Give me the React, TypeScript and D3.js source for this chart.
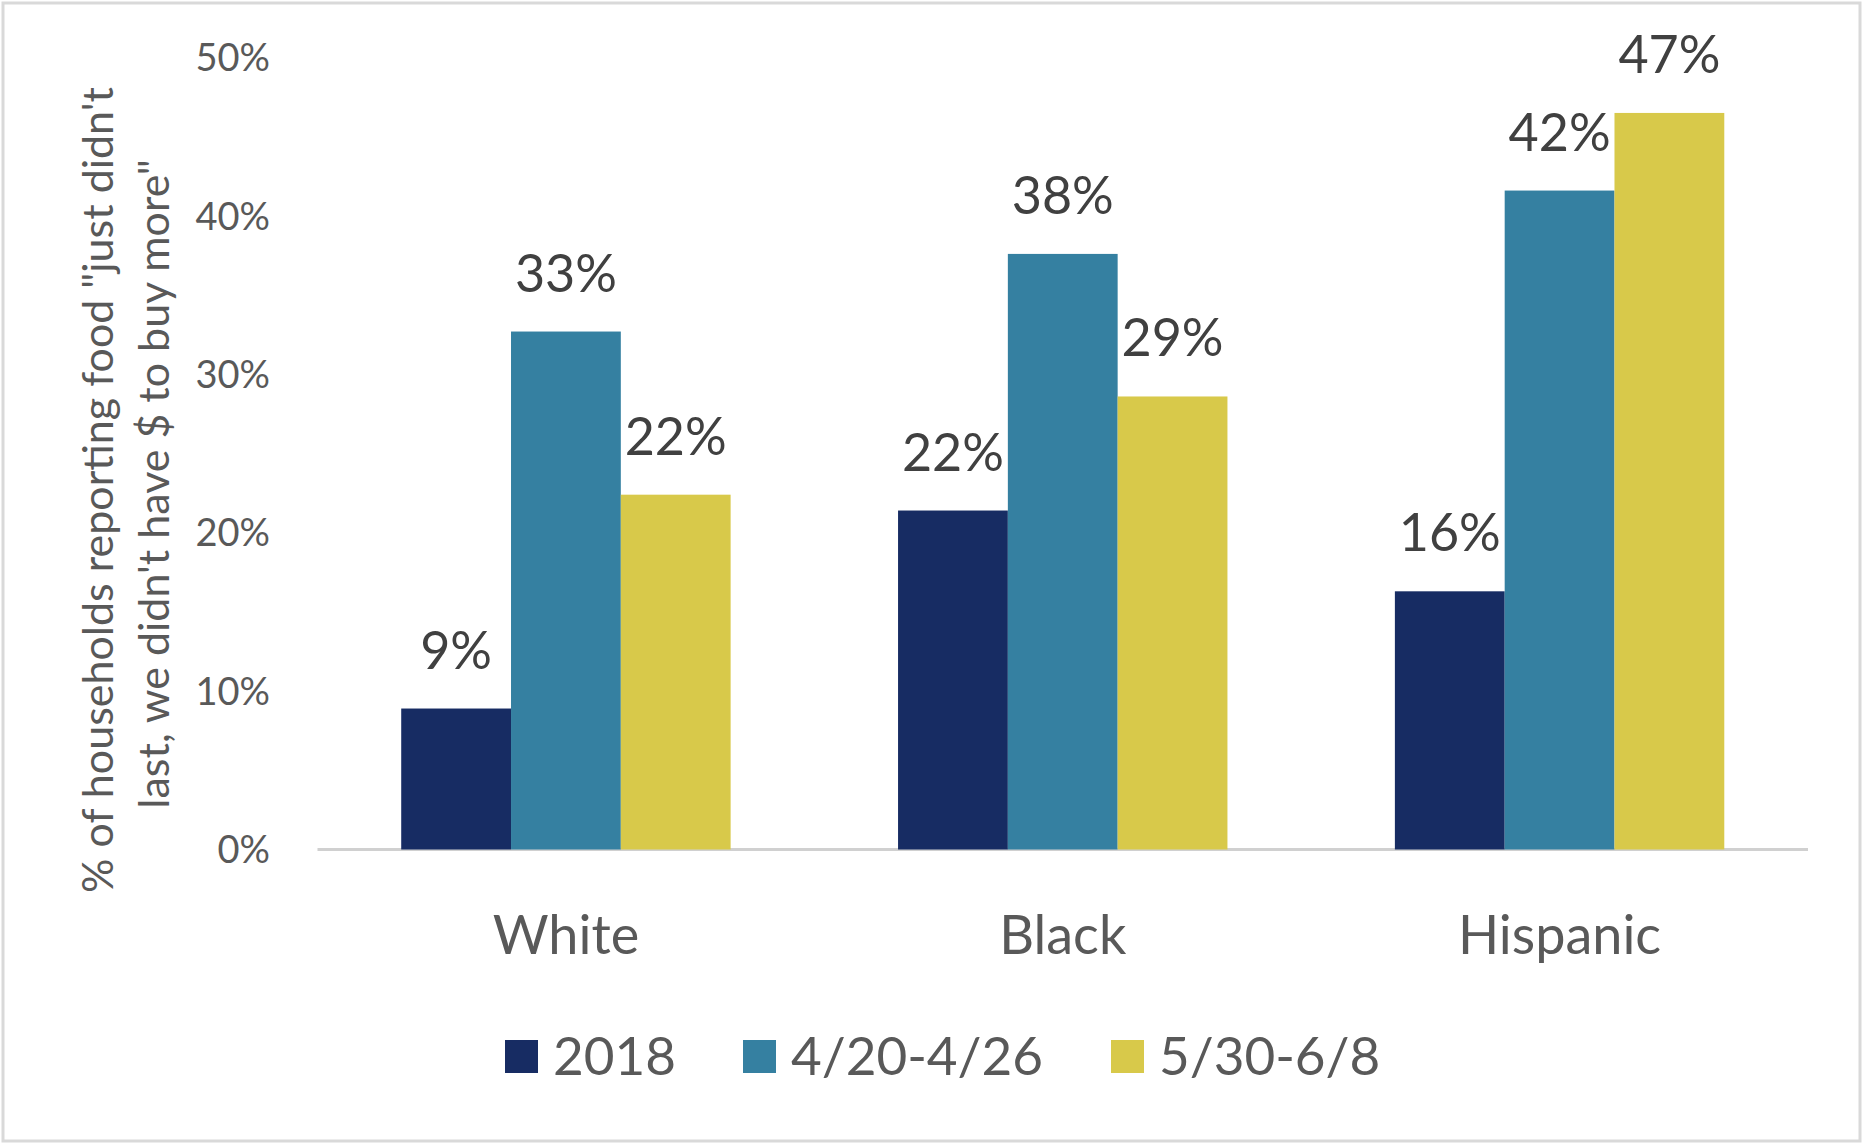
import React from "react";
import * as d3 from "d3";

const categories = ["White", "Black", "Hispanic"];
const seriesNames = ["2018", "4/20-4/26", "5/30-6/8"];
const seriesColors = ["#172c63", "#3580a1", "#d8c94a"];
const values2018 = [8.9, 21.4, 16.3];
const valuesApr = [32.7, 37.6, 41.6];
const valuesJun = [22.4, 28.6, 46.5];
const labels2018 = ["9%", "22%", "16%"];
const labelsApr = ["33%", "38%", "42%"];
const labelsJun = ["22%", "29%", "47%"];
const yTicks = [0, 10, 20, 30, 40, 50];
const yTitleLines = ['% of households reporting food "just didn\'t', 'last, we didn\'t have $ to buy more"'];

const W = 1865;
const H = 1143;
const FONT = "Lato, 'Open Sans', sans-serif";

export default function App() {
  const x0 = d3.scaleBand<string>().domain(categories).range([317.5, 1808]).paddingInner(0.337).paddingOuter(0.1685);
  const x1 = d3.scaleBand<string>().domain(seriesNames).range([0, x0.bandwidth()]);
  const y = d3.scaleLinear().domain([0, 50]).range([849.5, 57.5]);
  const series = [values2018, valuesApr, valuesJun];
  const labels = [labels2018, labelsApr, labelsJun];

  const legendX = [505, 743, 1111];

  return (
    <svg width={W} height={H} style={{ position: "absolute", left: 0, top: 0, background: "#fff" }} fontFamily={FONT}>
      <rect x={3} y={3} width={1857} height={1138} fill="#fff" stroke="#d9d9d9" strokeWidth={3} />
      {yTicks.map((t) => (
        <text key={t} x={270} y={y(t)} dy="0.36em" textAnchor="end" fontSize={38} fill="#595959">
          {t}%
        </text>
      ))}
      <line x1={317.5} x2={1808} y1={y(0)} y2={y(0)} stroke="#d0d0d0" strokeWidth={3} />
      {categories.map((c, ci) => (
        <g key={c}>
          {series.map((vals, si) => {
            const bx = (x0(c) as number) + (x1(seriesNames[si]) as number);
            const bw = x1.bandwidth();
            return (
              <g key={si}>
                <rect x={bx} y={y(vals[ci])} width={bw} height={y(0) - y(vals[ci])} fill={seriesColors[si]} />
                <text x={bx + bw / 2} y={y(vals[ci]) - 40} textAnchor="middle" fontSize={52} fill="#404040">
                  {labels[si][ci]}
                </text>
              </g>
            );
          })}
          <text x={(x0(c) as number) + x0.bandwidth() / 2} y={954} textAnchor="middle" fontSize={54} fill="#595959">
            {c}
          </text>
        </g>
      ))}
      <g>
        {yTitleLines.map((l, i) => (
          <text
            key={i}
            transform={`translate(${113 + i * 56},${490 - i * 6}) rotate(-90)`}
            textAnchor="middle"
            fontSize={43}
            fill="#595959"
          >
            {l}
          </text>
        ))}
      </g>
      {seriesNames.map((s, i) => (
        <g key={s}>
          <rect x={legendX[i]} y={1040} width={33} height={33} fill={seriesColors[i]} />
          <text x={legendX[i] + 48} y={1075} fontSize={53} fill="#595959">
            {s}
          </text>
        </g>
      ))}
    </svg>
  );
}
